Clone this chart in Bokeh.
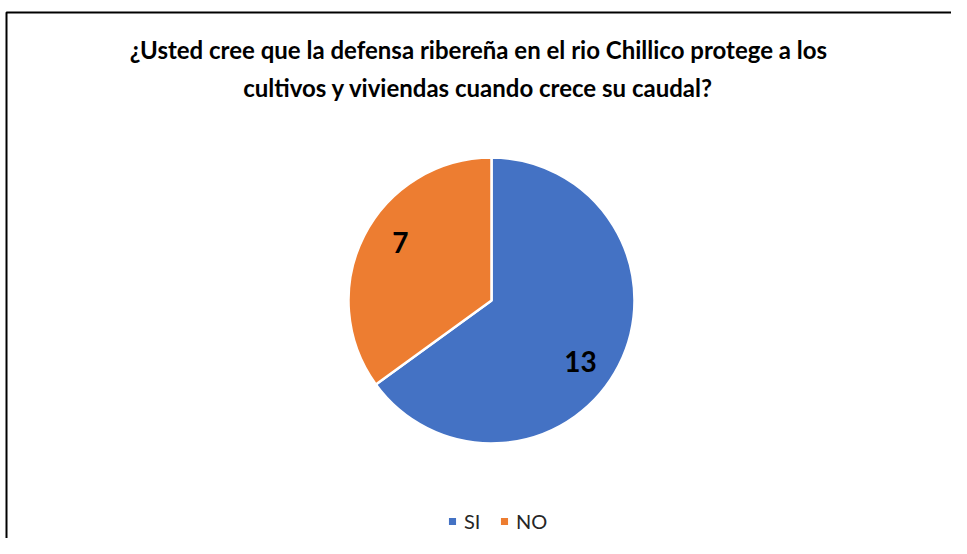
import math
from bokeh.plotting import figure
from bokeh.models import Range1d, Label, Legend, LegendItem, ColumnDataSource
from bokeh.embed import file_html
from bokeh.resources import INLINE

# ---- data ----
categories = ["SI", "NO"]
counts = [13, 7]
colors = ["#4472C4", "#ED7D31"]
title_lines = ["¿Usted cree que la defensa ribereña en el rio Chillico protege a los",
               "cultivos y viviendas cuando crece su caudal?"]

W, H = 951, 538
FONT = "Lato"
REF_H = 554  # y in data = REF_H - pixel row

p = figure(width=W, height=H, output_backend="svg", toolbar_location=None,
           x_range=Range1d(0, W), y_range=Range1d(REF_H - H, REF_H),
           x_axis_type=None, y_axis_type=None, min_border=0,
           outline_line_color=None)
p.grid.visible = False
p.background_fill_color = "white"
p.border_fill_color = "white"

# pie geometry (data units == pixels)
cx, cy, r = 491, REF_H - 300, 143
total = sum(counts)
starts, ends = [], []
a = math.pi / 2
for c in counts:
    starts.append(a)
    a -= 2 * math.pi * c / total
    ends.append(a)

src = ColumnDataSource(dict(cat=categories, val=counts, color=colors,
                            start=starts, end=ends))
wr = p.wedge(x=cx, y=cy, radius=r, start_angle="start", end_angle="end",
             direction="clock", fill_color="color", line_color="white",
             line_width=2.5, source=src)

# data labels
label_angle_deg = [-34.6, 147.5]
label_dist = 108
for v, ang in zip(counts, label_angle_deg):
    t = math.radians(ang)
    p.add_layout(Label(x=cx + label_dist * math.cos(t), y=cy + label_dist * math.sin(t),
                       text=str(v), text_align="center", text_baseline="middle",
                       text_font=FONT, text_font_style="bold",
                       text_font_size="28px", text_color="black"))

# title
title_y = [REF_H - 49, REF_H - 87]
for line, ty in zip(title_lines, title_y):
    p.add_layout(Label(x=478, y=ty, text=line, text_align="center",
                       text_baseline="middle", text_font=FONT,
                       text_font_style="bold", text_font_size="24px",
                       text_color="black"))

# border (chart area frame)
p.line(x=[6, 6, W], y=[REF_H - H, REF_H - 12, REF_H - 12], line_color="black", line_width=2)

# legend
items = [LegendItem(label=c, renderers=[wr], index=i) for i, c in enumerate(categories)]
legend = Legend(items=items, orientation="horizontal", location=(446, 5),
                glyph_width=12, glyph_height=12, label_standoff=6, spacing=14,
                padding=0, margin=0, border_line_alpha=0, background_fill_alpha=0,
                label_text_font=FONT, label_text_font_size="20px",
                label_text_color="#262626")
p.add_layout(legend, "center")

open("out.html", "w").write(file_html(p, INLINE))
